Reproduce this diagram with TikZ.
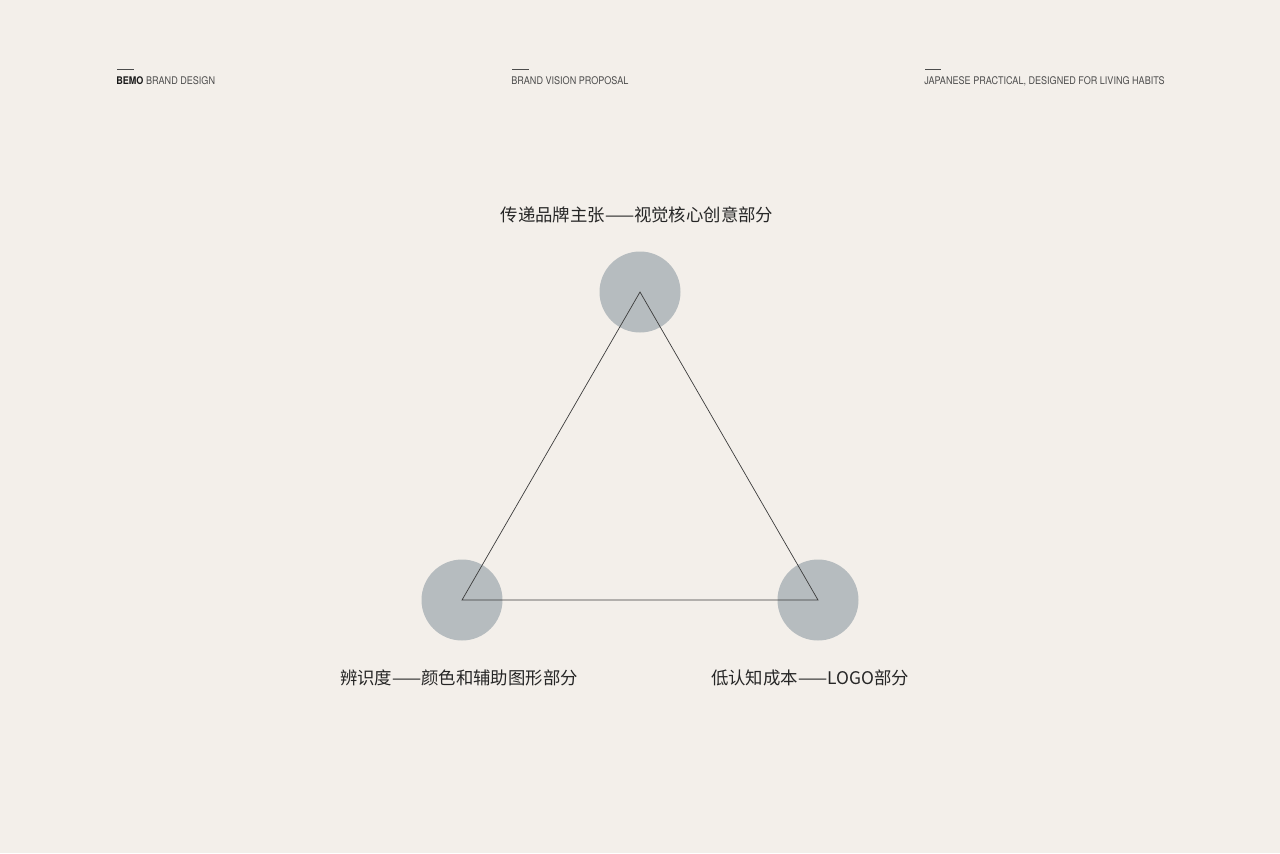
\documentclass[tikz,border=0pt]{standalone}
\usepackage{fontspec}
\setmainfont{TeX Gyre Heros}
\newfontfamily\cjk{Noto Sans CJK SC}
\definecolor{bgpaper}{HTML}{F3EFEA}
\definecolor{dotgray}{HTML}{B6BCBF}
\definecolor{inkgray}{HTML}{3C3C3C}
\newcommand{\headtext}[1]{\scalebox{0.86}[1]{#1}}
\tikzset{
    dot/.style={circle, fill=dotgray, minimum size=1.62cm, inner sep=0pt},
    label cn/.style={font=\cjk\fontsize{9.9pt}{11pt}\selectfont, text=black!85, inner sep=0pt},
    header/.style={font=\fontsize{6pt}{7pt}\selectfont, text=black!70, anchor=west, inner sep=0pt},
    tick/.style={line width=0.4pt, draw=black!70}
}
\begin{document}
\begin{tikzpicture}[x=0.02cm, y=-0.02cm]
        % 背景
        \fill[bgpaper] (0,0) rectangle (1280,853);
        \useasboundingbox (0,0) rectangle (1280,853);

        % 页眉
        \coordinate (t1a) at (117,69); \coordinate (t1b) at (134,69);
        \coordinate (t2a) at (512,69); \coordinate (t2b) at (529,69);
        \coordinate (t3a) at (925,69); \coordinate (t3b) at (941,69);
        \draw[tick] (t1a) -- (t1b);
        \draw[tick] (t2a) -- (t2b);
        \draw[tick] (t3a) -- (t3b);
        \node[header] (h1) at (116,81) {\headtext{\textbf{\textcolor{black!90}{BEMO}} BRAND DESIGN}};
        \node[header] (h2) at (511,81) {\headtext{BRAND VISION PROPOSAL}};
        \node[header] (h3) at (924,81) {\headtext{JAPANESE PRACTICAL, DESIGNED FOR LIVING HABITS}};

        % 三个圆
        \node[dot] (top) at (640,292) {};
        \node[dot] (left) at (462,600) {};
        \node[dot] (right) at (818,600) {};

        % 三角形
        \draw[line width=0.4pt, inkgray] (top.center) -- (left.center) -- (right.center) -- cycle;

        % 文字
        \node[label cn] (toplabel) at (637,215) {传递品牌主张——视觉核心创意部分};
        \node[label cn] (leftlabel) at (459,678) {辨识度——颜色和辅助图形部分};
        \node[label cn] (rightlabel) at (810,678) {低认知成本——LOGO部分};
\end{tikzpicture}
\end{document}
